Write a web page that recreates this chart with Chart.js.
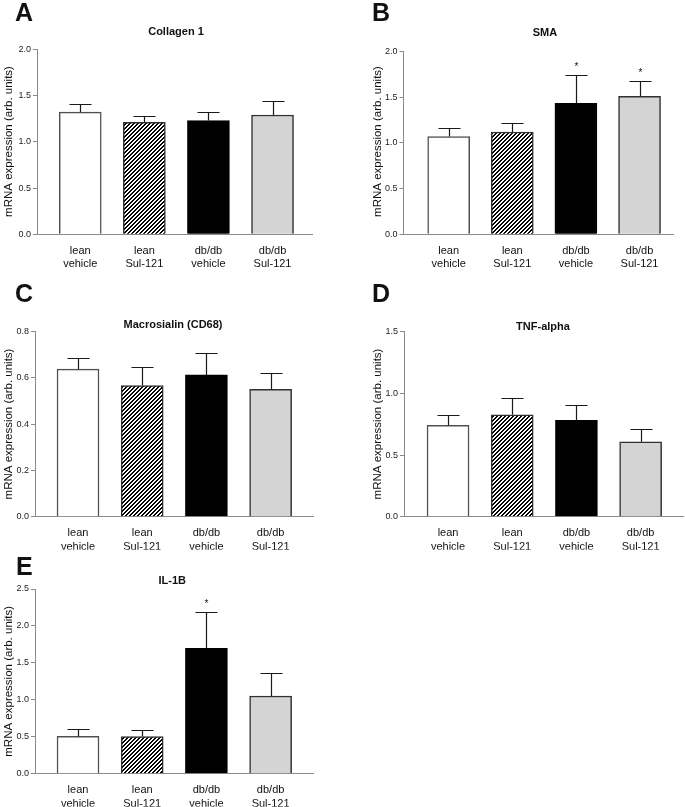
<!DOCTYPE html>
<html>
<head>
<meta charset="utf-8">
<script src="https://cdn.jsdelivr.net/npm/chart.js@4/dist/chart.umd.min.js"></script>
<style>
  body { margin: 0; background: #fff; }
  #wrap { position: relative; width: 685px; height: 807px; }
  #wrap canvas { position: absolute; left: 0; top: 0; }
</style>
</head>
<body>
<div id="wrap">
  <canvas id="pA" width="685" height="807"></canvas>
  <canvas id="pB" width="685" height="807"></canvas>
  <canvas id="pC" width="685" height="807"></canvas>
  <canvas id="pD" width="685" height="807"></canvas>
  <canvas id="pE" width="685" height="807"></canvas>
</div>
<script>
// group labels, shared by all five panels
const groups = [["lean", "vehicle"], ["lean", "Sul-121"], ["db/db", "vehicle"], ["db/db", "Sul-121"]];

// mean and SEM, one pair per panel
const collagenMean = [1.32, 1.21, 1.23, 1.29];
const collagenSem = [0.085, 0.065, 0.09, 0.155];

const smaMean = [1.07, 1.12, 1.435, 1.51];
const smaSem = [0.095, 0.10, 0.315, 0.17];
const smaStars = [0, 0, 1, 1];

const cd68Mean = [0.638, 0.567, 0.613, 0.551];
const cd68Sem = [0.047, 0.082, 0.094, 0.069];

const tnfMean = [0.741, 0.826, 0.782, 0.607];
const tnfSem = [0.081, 0.134, 0.121, 0.102];

const il1bMean = [0.505, 0.503, 1.697, 1.052];
const il1bSem = [0.104, 0.089, 0.492, 0.311];
const il1bStars = [0, 0, 1, 0];

const yTitle = "mRNA expression (arb. units)";

(function () {
    "use strict";

    const FONT = "'Liberation Sans', Arial, Helvetica, sans-serif";
    Chart.defaults.font.family = FONT;
    Chart.defaults.color = "#111";

    // diagonal hatch for the lean Sul-121 bars
    function hatch() {
        const c = document.createElement("canvas");
        c.width = 4; c.height = 4;
        const g = c.getContext("2d");
        const img = g.createImageData(4, 4);
        for (let y = 0; y < 4; y++) {
            for (let x = 0; x < 4; x++) {
                const v = ((x + y) % 4) < 2 ? 0 : 255;
                const k = (y * 4 + x) * 4;
                img.data[k] = v; img.data[k + 1] = v; img.data[k + 2] = v; img.data[k + 3] = 255;
            }
        }
        g.putImageData(img, 0, 0);
        return g.createPattern(c, "repeat");
    }

    const pat = hatch();
    const fills = ["#ffffff", pat, "#000000", "#d4d4d4"];
    const edges = ["#505050", "#303030", "#000000", "#303030"];

    const Y_W = 30, X_H = 33;

    function makePanel(p) {
        const ctx = document.getElementById(p.id).getContext("2d");

        const extras = {
            id: "extras" + p.id,
            afterDatasetsDraw(chart) {
                const c = chart.ctx, xs = chart.scales.x, ys = chart.scales.y;
                c.save();
                // error bars, upper half only
                c.strokeStyle = "#1a1a1a";
                c.lineWidth = 1.2;
                c.fillStyle = "#111";
                c.font = "10px " + FONT;
                c.textAlign = "center";
                c.textBaseline = "alphabetic";
                p.mean.forEach((m, i) => {
                    const x = Math.round(xs.getPixelForValue(i + 1)) + 0.5;
                    const y0 = ys.getPixelForValue(m);
                    const y1 = Math.round(ys.getPixelForValue(m + p.sem[i])) + 0.5;
                    c.beginPath();
                    c.moveTo(x, y0);
                    c.lineTo(x, y1);
                    c.moveTo(x - 11, y1);
                    c.lineTo(x + 11, y1);
                    c.stroke();
                    if (p.stars && p.stars[i]) {
                        c.fillText("*", x, y1 - 6);
                    }
                });

                // panel title
                c.font = "bold 11px " + FONT;
                c.fillText(p.title, p.titleAt[0], p.titleAt[1]);

                // panel letter
                c.textAlign = "left";
                c.font = "bold 25px " + FONT;
                c.fillText(p.letter, p.letterAt[0], p.letterAt[1]);

                // y axis title
                c.translate(p.yTitleAt[0], p.yTitleAt[1]);
                c.rotate(-Math.PI / 2);
                c.textAlign = "center";
                c.textBaseline = "middle";
                c.font = "11.5px " + FONT;
                c.fillText(yTitle, 0, 0);
                c.restore();
            }
        };

        return new Chart(ctx, {
            type: "bar",
            data: {
                datasets: [{
                    data: p.mean.map((v, i) => ({ x: i + 1, y: v })),
                    backgroundColor: fills,
                    borderColor: edges,
                    borderWidth: 1.5,
                    barThickness: 42,
                }],
            },
            options: {
                responsive: false,
                animation: false,
                events: [],
                layout: {
                    padding: {
                        left: p.area[0] - Y_W,
                        top: p.area[1],
                        right: 685 - p.area[2],
                        bottom: Math.max(0, 807 - p.area[3] - X_H),
                    },
                },
                plugins: {
                    legend: { display: false },
                    tooltip: { enabled: false },
                },
                scales: {
                    x: {
                        type: "linear",
                        offset: false,
                        min: p.xRange[0],
                        max: p.xRange[1],
                        afterBuildTicks: (s) => { s.ticks = [1, 2, 3, 4].map((v) => ({ value: v })); },
                        afterFit: (s) => { s.height = X_H; },
                        ticks: {
                            callback: (v) => groups[v - 1] || "",
                            font: { size: 11 },
                            color: "#111",
                            padding: 2,
                            maxRotation: 0,
                            autoSkip: false,
                        },
                        grid: { display: false },
                        border: { color: "#8a8a8a", width: 1 },
                    },
                    y: {
                        min: 0,
                        max: p.yMax,
                        afterFit: (s) => { s.width = Y_W; },
                        ticks: {
                            stepSize: p.yStep,
                            callback: (v) => v.toFixed(1),
                            font: { size: 9 },
                            color: "#222",
                            padding: 2,
                        },
                        grid: { drawOnChartArea: false, tickLength: 4, color: "#8a8a8a" },
                        border: { color: "#8a8a8a", width: 1 },
                    },
                },
            },
            plugins: [extras],
        });
    }

    const panels = [
        { id: "pA", letter: "A", title: "Collagen 1", mean: collagenMean, sem: collagenSem,
          yMax: 2.0, yStep: 0.5, area: [37, 49.3, 312, 234.3], xRange: [0.325, 4.616],
          titleAt: [176, 34.5], letterAt: [15, 21], yTitleAt: [9, 141.5] },
        { id: "pB", letter: "B", title: "SMA", mean: smaMean, sem: smaSem, stars: smaStars,
          yMax: 2.0, yStep: 0.5, area: [403.5, 51.7, 673, 234.3], xRange: [0.29, 4.526],
          titleAt: [545, 36], letterAt: [372, 21], yTitleAt: [378, 141.5] },
        { id: "pC", letter: "C", title: "Macrosialin (CD68)", mean: cd68Mean, sem: cd68Sem,
          yMax: 0.8, yStep: 0.2, area: [35, 331.7, 313, 516.7], xRange: [0.33, 4.66],
          titleAt: [173, 327.5], letterAt: [15, 301.5], yTitleAt: [9, 424] },
        { id: "pD", letter: "D", title: "TNF-alpha", mean: tnfMean, sem: tnfSem,
          yMax: 1.5, yStep: 0.5, area: [404, 331.7, 683, 516.7], xRange: [0.314, 4.66],
          titleAt: [543, 329.5], letterAt: [372, 302], yTitleAt: [378, 424] },
        { id: "pE", letter: "E", title: "IL-1B", mean: il1bMean, sem: il1bSem, stars: il1bStars,
          yMax: 2.5, yStep: 0.5, area: [35, 589, 313, 773.7], xRange: [0.33, 4.66],
          titleAt: [172.3, 584], letterAt: [16, 575], yTitleAt: [9, 681.3] },
    ];

    panels.forEach(makePanel);
})();
</script>
</body>
</html>
